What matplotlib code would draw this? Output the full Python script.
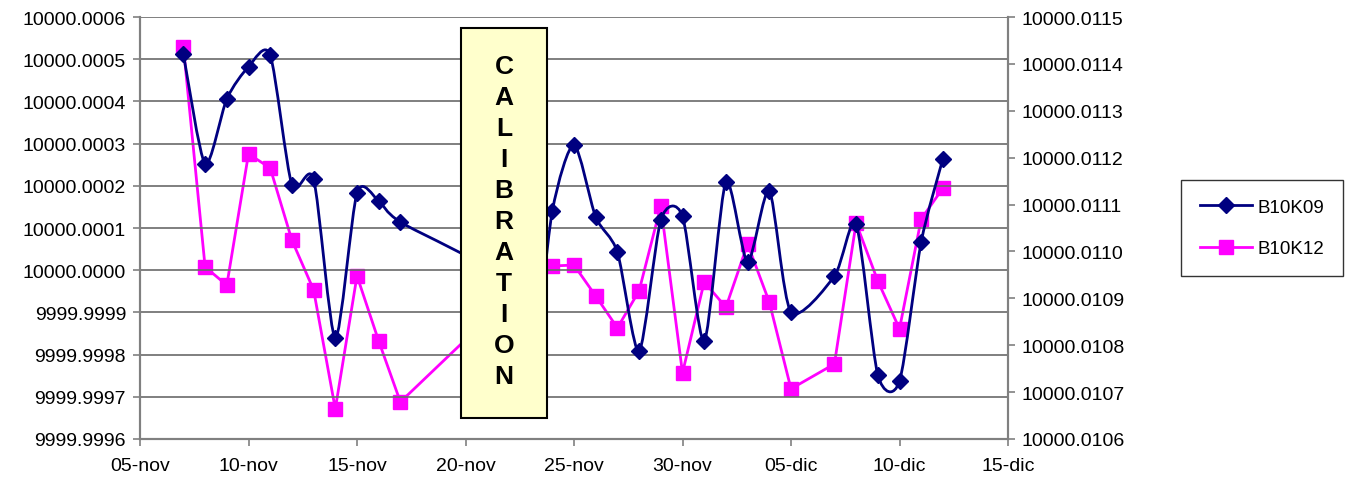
import datetime as dt
import matplotlib
matplotlib.use('Agg')
import matplotlib.pyplot as plt
import matplotlib.dates as mdates
from matplotlib.path import Path
from matplotlib.patches import PathPatch, Rectangle
from matplotlib.lines import Line2D
from matplotlib.ticker import FormatStrFormatter

plt.rcParams['font.family'] = ['Liberation Sans', 'DejaVu Sans']

# Fechas (dia, mes) de las mediciones
fechas = [(7, 11), (8, 11), (9, 11), (10, 11), (11, 11), (12, 11), (13, 11), (14, 11),
          (15, 11), (16, 11), (17, 11), (22, 11), (23, 11), (24, 11), (25, 11), (26, 11),
          (27, 11), (28, 11), (29, 11), (30, 11), (1, 12), (2, 12), (3, 12), (4, 12),
          (5, 12), (7, 12), (8, 12), (9, 12), (10, 12), (11, 12), (12, 12)]

# B10K09 (eje izquierdo)
b10k09 = [10000.000512, 10000.000252, 10000.000406, 10000.000482, 10000.000510, 10000.000202,
          10000.000216, 9999.999839, 10000.000183, 10000.000164, 10000.000114, 9999.999967,
          9999.999750, 10000.000140, 10000.000297, 10000.000126, 10000.000043, 9999.999808,
          10000.000119, 10000.000128, 9999.999832, 10000.000209, 10000.000019, 10000.000188,
          9999.999901, 9999.999986, 10000.000109, 9999.999752, 9999.999737, 10000.000067,
          10000.000264]

# B10K12 (eje derecho)
b10k12 = [10000.011436, 10000.010967, 10000.010928, 10000.011208, 10000.011178, 10000.011024,
          10000.010918, 10000.010664, 10000.010948, 10000.010809, 10000.010679, 10000.010900,
          10000.010968, 10000.010969, 10000.010971, 10000.010905, 10000.010837, 10000.010916,
          10000.011097, 10000.010741, 10000.010935, 10000.010881, 10000.011016, 10000.010892,
          10000.010707, 10000.010760, 10000.011061, 10000.010937, 10000.010835, 10000.011069,
          10000.011135]

ticks_izq = [9999.9996, 9999.9997, 9999.9998, 9999.9999, 10000.0000, 10000.0001,
             10000.0002, 10000.0003, 10000.0004, 10000.0005, 10000.0006]
ticks_der = [10000.0106, 10000.0107, 10000.0108, 10000.0109, 10000.0110, 10000.0111,
             10000.0112, 10000.0113, 10000.0114, 10000.0115]
ticks_x = [(5, 11), (10, 11), (15, 11), (20, 11), (25, 11), (30, 11), (5, 12), (10, 12), (15, 12)]
etiquetas_x = ['05-nov', '10-nov', '15-nov', '20-nov', '25-nov', '30-nov', '05-dic', '10-dic', '15-dic']
texto_caja = 'CALIBRATION'

AZUL = '#000080'
ROSA = '#FF00FF'
GRIS = '#808080'
EPS = 1e-9


def a_num(d):
    return mdates.date2num(dt.date(2005, d[1], d[0]))


x = [a_num(d) for d in fechas]


def curva_suave(xs, ys, k=1 / 8):
    # Curva suavizada tipo Excel (Bezier por puntos vecinos)
    n = len(xs)
    verts = [(xs[0], ys[0])]
    codes = [Path.MOVETO]
    for i in range(n - 1):
        i0 = max(i - 1, 0)
        i3 = min(i + 2, n - 1)
        c1 = (xs[i] + (xs[i + 1] - xs[i0]) * k, ys[i] + (ys[i + 1] - ys[i0]) * k)
        c2 = (xs[i + 1] - (xs[i3] - xs[i]) * k, ys[i + 1] - (ys[i3] - ys[i]) * k)
        verts += [c1, c2, (xs[i + 1], ys[i + 1])]
        codes += [Path.CURVE4] * 3
    return Path(verts, codes)


fig = plt.figure(figsize=(13.51, 4.81), dpi=100)
ax = fig.add_axes([140 / 1351, 41 / 481, 868 / 1351, 422 / 481])
ax2 = ax.twinx()

# Eje izquierdo
ax.set_ylim(ticks_izq[0] - EPS, ticks_izq[-1] + EPS)
ax.set_yticks(ticks_izq)
ax.yaxis.set_major_formatter(FormatStrFormatter('%.4f'))
ax.grid(axis='y', color='#6a6a6a', linewidth=1.2)
ax.set_axisbelow(True)

# Eje derecho
ax2.set_ylim(ticks_der[0] - EPS, ticks_der[-1] + EPS)
ax2.set_yticks(ticks_der)
ax2.yaxis.set_major_formatter(FormatStrFormatter('%.4f'))

ax.set_xlim(a_num((5, 11)), a_num((15, 12)))
ax.set_xticks([a_num(d) for d in ticks_x])
ax.set_xticklabels(etiquetas_x)

for a in (ax, ax2):
    a.spines['top'].set_visible(False)
    for lado in ('left', 'right', 'bottom'):
        a.spines[lado].set_color(GRIS)
        a.spines[lado].set_linewidth(1.5)
    a.tick_params(labelsize=14, colors='black', length=5, width=1.2, color=GRIS, pad=5)
ax.tick_params(axis='x', pad=8)

# Series
ax2.plot(x, b10k12, color=ROSA, linewidth=2, marker='s', markersize=10, zorder=3)
ax.add_patch(PathPatch(curva_suave(x, b10k09), facecolor='none', edgecolor=AZUL, linewidth=2, zorder=4))
ax.plot(x, b10k09, linestyle='none', marker='D', markersize=8, color=AZUL, zorder=5)
ax.set_zorder(ax2.get_zorder() + 1)
ax.patch.set_visible(False)

# Caja de calibracion
fig.add_artist(Rectangle((461 / 1351, 1 - 419 / 481), 86 / 1351, 390 / 481, transform=fig.transFigure,
                         facecolor='#FFFFCC', edgecolor='black', linewidth=1.5, zorder=10))
for i, letra in enumerate(texto_caja):
    fig.text(504 / 1351, 1 - (67 + 31 * i) / 481, letra, ha='center', va='center',
             fontsize=19, fontweight='bold', zorder=11)

# Leyenda
handles = [Line2D([], [], color=AZUL, linewidth=2, marker='D', markersize=8),
           Line2D([], [], color=ROSA, linewidth=2, marker='s', markersize=10)]
fig.legend(handles, ['B10K09', 'B10K12'], loc='upper left', bbox_to_anchor=(1181 / 1351, 1 - 181 / 481),
           fontsize=13.5, frameon=True, fancybox=False, edgecolor='black', handlelength=2.8,
           borderpad=1.0, labelspacing=1.3, borderaxespad=0, handletextpad=0.3)

fig.savefig('out.png', dpi=100)
